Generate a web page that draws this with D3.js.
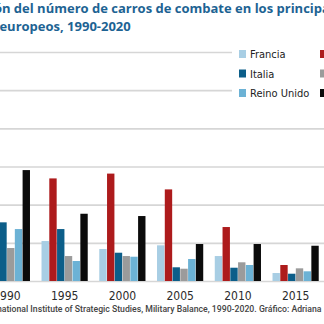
<!DOCTYPE html>
<html>
<head>
<meta charset="utf-8">
<script src="https://cdn.jsdelivr.net/npm/d3@7"></script>
<style>
  html, body { margin: 0; padding: 0; background: #fff; overflow: hidden; }
  svg { display: block; }
  .narrow { font-family: "Liberation Sans Narrow", "DejaVu Sans Condensed", "Arial Narrow", sans-serif; font-stretch: condensed; }
</style>
</head>
<body>
<script>
'use strict';

// tanks per country and year (IISS Military Balance)
const years = ["1990", "1995", "2000", "2005", "2010", "2015", "2020"];
const francia    = [1340, 1047, 838, 935, 654, 209, 222];
const alemania   = [5000, 2688, 2814, 2400, 1414, 419, 245];
const italia     = [1537, 1361, 741, 359, 348, 191, 200];
const espana     = [864, 654, 654, 322, 490, 332, 327];
const reinoUnido = [1361, 524, 636, 576, 419, 254, 227];
const polonia    = [2906, 1762, 1702, 969, 969, 924, 797];

const countries = ["Francia", "Alemania", "Italia", "España", "Reino Unido", "Polonia"];
const yTicks = [0, 1000, 2000, 3000, 4000, 5000, 6000];

const colors = {
  "Francia": "#a8cee4",
  "Alemania": "#ad1b1c",
  "Italia": "#0c5e89",
  "España": "#9b9b9b",
  "Reino Unido": "#6cb2d5",
  "Polonia": "#0b0b0b"
};

const series = {
  "Francia": francia,
  "Alemania": alemania,
  "Italia": italia,
  "España": espana,
  "Reino Unido": reinoUnido,
  "Polonia": polonia
};

(function() {
  const width = 324, height = 324;
  const left = -52; // page margin, the chart runs wider than the window

  const svg = d3.select('body')
    .append('svg')
    .attr('width', width)
    .attr('height', height);

  // rows for grouped bars
  const rows = years.map((y, i) => {
    let row = { year: y };
    countries.forEach(c => { row[c] = series[c][i]; });
    return row;
  });

  // scales
  let x0 = d3.scaleBand()
    .domain(years)
    .range([-22, -22 + 7 * 57.75])
    .paddingInner(0.2)
    .paddingOuter(0.1);

  let x1 = d3.scaleBand()
    .domain(countries)
    .range([0, x0.bandwidth()])
    .paddingInner(0.05);

  let yScale = d3.scaleLinear()
    .domain([0, 6000])
    .range([281, 52]);

  // gridlines
  let yAxis = d3.axisLeft(yScale)
    .tickValues(yTicks)
    .tickSize(-(width + 80))
    .tickFormat('');
  let grid = svg.append('g')
    .attr('transform', 'translate(' + left + ',0)')
    .call(yAxis);
  grid.select('.domain').remove();
  grid.selectAll('line')
    .attr('stroke', '#d6d6d6')
    .attr('stroke-width', 1.6);

  // bars
  let groups = svg.append('g')
    .selectAll('g')
    .data(rows)
    .enter()
    .append('g')
    .attr('transform', d => 'translate(' + x0(d.year) + ',0)');

  groups.selectAll('rect')
    .data(d => countries.map(c => ({ key: c, value: d[c] })))
    .enter()
    .append('rect')
    .attr('x', d => x1(d.key))
    .attr('y', d => yScale(d.value))
    .attr('width', x1.bandwidth())
    .attr('height', d => yScale(0) - yScale(d.value))
    .attr('fill', d => colors[d.key]);

  // year labels
  let xAxis = d3.axisBottom(x0).tickSize(0).tickPadding(10);
  let xg = svg.append('g')
    .attr('transform', 'translate(0,' + yScale(0) + ')')
    .call(xAxis);
  xg.select('.domain').remove();
  xg.selectAll('text')
    .attr('class', 'narrow')
    .style('font-size', '12px')
    .attr('fill', '#2b2b2b');

  // legend on a white box over the gridlines
  let legend = svg.append('g')
    .attr('transform', 'translate(232,42)');
  legend.append('rect')
    .attr('width', 200)
    .attr('height', 80)
    .attr('fill', '#fff');

  countries.forEach((c, i) => {
    let col = i % 2, row = Math.floor(i / 2);
    let item = legend.append('g')
      .attr('transform', 'translate(' + (7 + col * 81) + ',' + (8 + row * 19.5) + ')');
    item.append('rect')
      .attr('width', 7)
      .attr('height', 8)
      .attr('fill', colors[c]);
    item.append('text')
      .attr('class', 'narrow')
      .attr('x', 11)
      .attr('y', 8)
      .style('font-size', '11px')
      .attr('fill', '#222')
      .text(c);
  });

  // title
  let title = svg.append('text')
    .attr('x', left)
    .attr('y', 13)
    .attr('fill', '#1d6393')
    .style('font-family', '"Open Sans", sans-serif')
    .style('font-weight', 700)
    .style('font-size', '13px');
  title.append('tspan')
    .attr('x', left)
    .text('Evolución del número de carros de combate en los principales');
  title.append('tspan')
    .attr('x', left - 8)
    .attr('dy', 18)
    .text('ejércitos europeos, 1990-2020');

  // source
  svg.append('text')
    .attr('x', left)
    .attr('y', 312)
    .attr('fill', '#444')
    .style('font-family', 'Roboto, sans-serif')
    .style('font-weight', 500)
    .style('font-size', '8.7px')
    .text('Fuente: International Institute of Strategic Studies, Military Balance, 1990-2020. Gráfico: Adriana');
})();
</script>
</body>
</html>
